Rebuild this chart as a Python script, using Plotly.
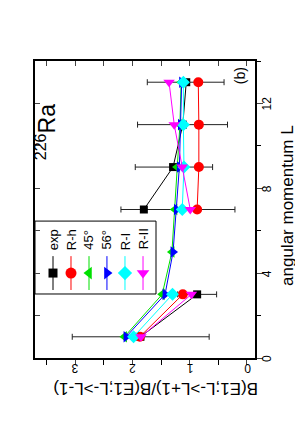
import plotly.graph_objects as go

# ---- data ----
L = [1, 3, 5, 7, 9, 11, 13]
exp_val = [1.86, 0.87, None, 1.80, 1.29, 1.12, 1.06]
exp_err_plus = [1.19, 0.34, 0, 0.40, 0.66, 0.79, 0.68]
exp_err_minus = [1.20, 0.34, 0, 1.59, 0.69, 0.78, 0.66]
rh = [1.87, 1.12, None, 0.87, 0.84, 0.84, 0.85]
d45 = [2.14, 1.48, 1.31, 1.26, 1.22, 1.17, 1.15]
d56 = [2.11, 1.43, 1.29, 1.23, 1.18, 1.16, 1.14]
r1 = [1.98, 1.30, None, 1.13, 1.10, 1.11, 1.11]
r2 = [1.85, 0.97, None, 0.99, 1.13, 1.27, 1.36]

series_names = ["exp", "R-h", "45°", "56°", "R-I", "R-II"]
series_vals = [exp_val, rh, d45, d56, r1, r2]
colors = ["black", "#ff0000", "#00e000", "#0000ff", "#00ffff", "#ff00ff"]
symbols = ["square", "circle", "triangle-left", "triangle-right", "diamond", "triangle-down"]
sizes = [8, 10, 10, 10, 10, 10]

ratio_ticks = [0, 1, 2, 3]
L_ticks = [0, 4, 8, 12]

FONT = "Liberation Sans, Arial, sans-serif"

fig = go.Figure()

for i, (name, vals) in enumerate(zip(series_names, series_vals)):
    kw = {}
    if i == 0:
        kw["error_x"] = dict(type="data", symmetric=False, array=exp_err_plus,
                             arrayminus=exp_err_minus, color="#222", thickness=1, width=3)
    fig.add_trace(go.Scatter(
        x=vals, y=L, mode="lines+markers", name=name, connectgaps=False,
        line=dict(color=colors[i], width=1),
        marker=dict(symbol=symbols[i], size=sizes[i], color=colors[i], line=dict(width=0)),
        showlegend=False, xaxis="x", yaxis="y", **kw))

# invisible trace for mirrored (inside-tick) axes
fig.add_trace(go.Scatter(x=[1], y=[1], mode="markers", marker=dict(opacity=0),
                         showlegend=False, hoverinfo="skip", xaxis="x2", yaxis="y2"))

# ---- hand-built rotated legend (on hidden overlay axes in [0,1] paper-like units) ----
leg_x = [0.0818, 0.1636, 0.2455, 0.327, 0.409, 0.491]
for i, name in enumerate(series_names):
    fig.add_trace(go.Scatter(x=[leg_x[i], leg_x[i]], y=[0.229, 0.343], mode="lines",
                             line=dict(color=colors[i], width=1), showlegend=False,
                             hoverinfo="skip", xaxis="x3", yaxis="y3"))
    fig.add_trace(go.Scatter(x=[leg_x[i]], y=[0.286], mode="markers",
                             marker=dict(symbol=symbols[i], size=sizes[i] + 1, color=colors[i]),
                             showlegend=False, hoverinfo="skip", xaxis="x3", yaxis="y3"))
    fig.add_annotation(x=leg_x[i], y=0.358, xref="paper", yref="paper", text=name,
                       textangle=-90, showarrow=False, xanchor="center", yanchor="bottom",
                       font=dict(size=13, color="black", family=FONT))

fig.add_shape(type="rect", xref="paper", yref="paper", x0=0.0, x1=0.55, y0=0.2155, y1=0.461,
              line=dict(color="black", width=1), fillcolor="white", layer="below")

# ---- tick labels (rotated with the figure) ----
for v in ratio_ticks:
    fig.add_annotation(x=v, y=-0.034, xref="x", yref="paper", text=str(v), textangle=180,
                       showarrow=False, xanchor="center", yanchor="middle",
                       font=dict(size=12, color="black", family=FONT))
for v in L_ticks:
    fig.add_annotation(x=1.0545, y=v, xref="paper", yref="y", text=str(v), textangle=-90,
                       showarrow=False, xanchor="center", yanchor="middle",
                       font=dict(size=12, color="black", family=FONT))

# ---- text labels ----
fig.add_annotation(x=0.55, y=-0.105, xref="paper", yref="paper",
                   text="B(E1;L->L+1)/B(E1;L->L-1)", textangle=180, showarrow=False,
                   xanchor="center", yanchor="middle",
                   font=dict(size=17, color="black", family=FONT))
fig.add_annotation(x=1.145, y=0.515, xref="paper", yref="paper",
                   text="angular momentum L", textangle=-90, showarrow=False,
                   xanchor="center", yanchor="middle",
                   font=dict(size=17, color="black", family=FONT))
fig.add_annotation(x=0.05, y=0.76, xref="paper", yref="paper",
                   text="<sup>226</sup>Ra", textangle=-90, showarrow=False,
                   xanchor="center", yanchor="middle",
                   font=dict(size=23, color="black", family=FONT))
fig.add_annotation(x=0.932, y=0.949, xref="paper", yref="paper",
                   text="(b)", textangle=-90, showarrow=False,
                   xanchor="center", yanchor="middle",
                   font=dict(size=14, color="black", family=FONT))

xr = [3.7, -0.14]
yr = [0, 14]
fig.update_layout(
    width=295, height=428,
    margin=dict(l=27, r=48, t=53, b=78),
    paper_bgcolor="white", plot_bgcolor="white",
    font=dict(family=FONT, color="black", size=12),
    xaxis=dict(domain=[0, 1], range=xr, tickvals=ratio_ticks, showticklabels=False,
               ticks="outside", ticklen=5,
               showline=True, linecolor="black", linewidth=1.5,
               showgrid=False, zeroline=False,
               minor=dict(tickvals=[0.5, 1.5, 2.5, 3.5], ticks="outside", ticklen=5,
                          tickcolor="black"),
               anchor="y"),
    yaxis=dict(domain=[0, 1], range=yr, side="right", tickvals=L_ticks, showticklabels=False,
               ticks="outside", ticklen=6,
               showline=True, linecolor="black", linewidth=1.5,
               showgrid=False, zeroline=False,
               minor=dict(tickvals=[2, 6, 10, 14], ticks="outside", ticklen=4,
                          tickcolor="black"),
               anchor="x"),
    xaxis2=dict(overlaying="x", side="top", range=xr, tickvals=[0, 0.5, 1, 1.5, 2, 2.5, 3, 3.5],
                ticks="inside", ticklen=5, showticklabels=False, showline=True,
                linecolor="black", linewidth=1.5, showgrid=False, zeroline=False, anchor="y2"),
    yaxis2=dict(overlaying="y", side="left", range=yr, tickvals=[0, 2, 4, 6, 8, 10, 12, 14],
                ticks="inside", ticklen=5, showticklabels=False, showline=True,
                linecolor="black", linewidth=1.5, showgrid=False, zeroline=False, anchor="x2"),
    xaxis3=dict(overlaying="x", range=[0, 1], visible=False, anchor="y3"),
    yaxis3=dict(overlaying="y", range=[0, 1], visible=False, anchor="x3"),
)

fig.write_html("out.html")
